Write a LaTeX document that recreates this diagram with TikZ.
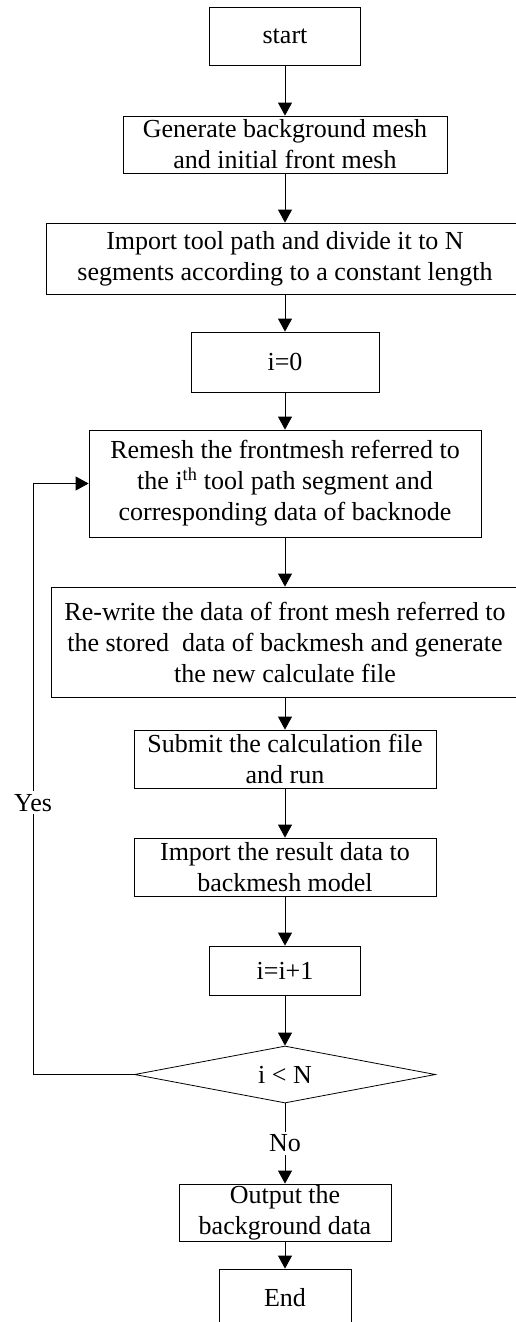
\documentclass[tikz,border=0pt]{standalone}
\usepackage{fontspec}
\setmainfont{Liberation Serif}
\usetikzlibrary{shapes.geometric,arrows.meta}

\begin{document}
\begin{tikzpicture}[x=1pt, y=-1pt,
    every node/.style={font=\fontsize{26}{31}\selectfont},
    box/.style={draw, line width=0.8pt, inner sep=0pt, align=center},
    line/.style={line width=0.8pt, -{Triangle[length=13pt,width=14pt]}}]
    \useasboundingbox (0,0) rectangle (515,1322);

    \node[box, minimum width=151pt, minimum height=58pt] (start) at (285,36) {start};
    \node[box, minimum width=324pt, minimum height=57pt] (gen) at (285,144.5) {Generate background mesh\\and initial front mesh};
    \node[box, minimum width=478pt, minimum height=71pt] (path) at (285,258.5) {Import tool path and divide it to N\\segments according to a constant length};
    \node[box, minimum width=188pt, minimum height=60pt] (init) at (285,362) {i=0};
    \node[box, minimum width=392pt, minimum height=107pt] (remesh) at (285,483.5) {Remesh the frontmesh referred to\\the i\textsuperscript{th} tool path segment and\\corresponding data of backnode};
    \node[box, minimum width=468pt, minimum height=110pt] (rewrite) at (285,642) {Re-write the data of front mesh referred to\\the stored\ \ data of backmesh and generate\\the new calculate file};
    \node[box, minimum width=302pt, minimum height=58pt] (submit) at (285,759) {Submit the calculation file\\and run};
    \node[box, minimum width=302pt, minimum height=58pt] (result) at (285,867) {Import the result data to\\backmesh model};
    \node[box, minimum width=151pt, minimum height=49pt] (incr) at (285,970.5) {i=i+1};
    \node[box, diamond, aspect=5, minimum width=301pt, minimum height=57pt] (check) at (285,1074.5) {i < N};
    \node[box, minimum width=212pt, minimum height=57pt] (output) at (285,1212.5) {Output the\\background data};
    \node[box, minimum width=132pt, minimum height=58pt] (end) at (285,1298) {End};
    \coordinate (back) at (33,1074.5);

    \draw[line] (start) -- (gen);
    \draw[line] (gen) -- (path);
    \draw[line] (path) -- (init);
    \draw[line] (init) -- (remesh);
    \draw[line] (remesh) -- (rewrite);
    \draw[line] (rewrite) -- (submit);
    \draw[line] (submit) -- (result);
    \draw[line] (result) -- (incr);
    \draw[line] (incr) -- (check);
    \draw[line] (check) -- node[fill=white, inner sep=3pt] {No} (output);
    \draw[line] (output) -- (end);
    \draw[line] (check.west) -- (back) |- node[pos=0.23, fill=white, inner sep=3pt] {Yes} (remesh.west);
\end{tikzpicture}
\end{document}
